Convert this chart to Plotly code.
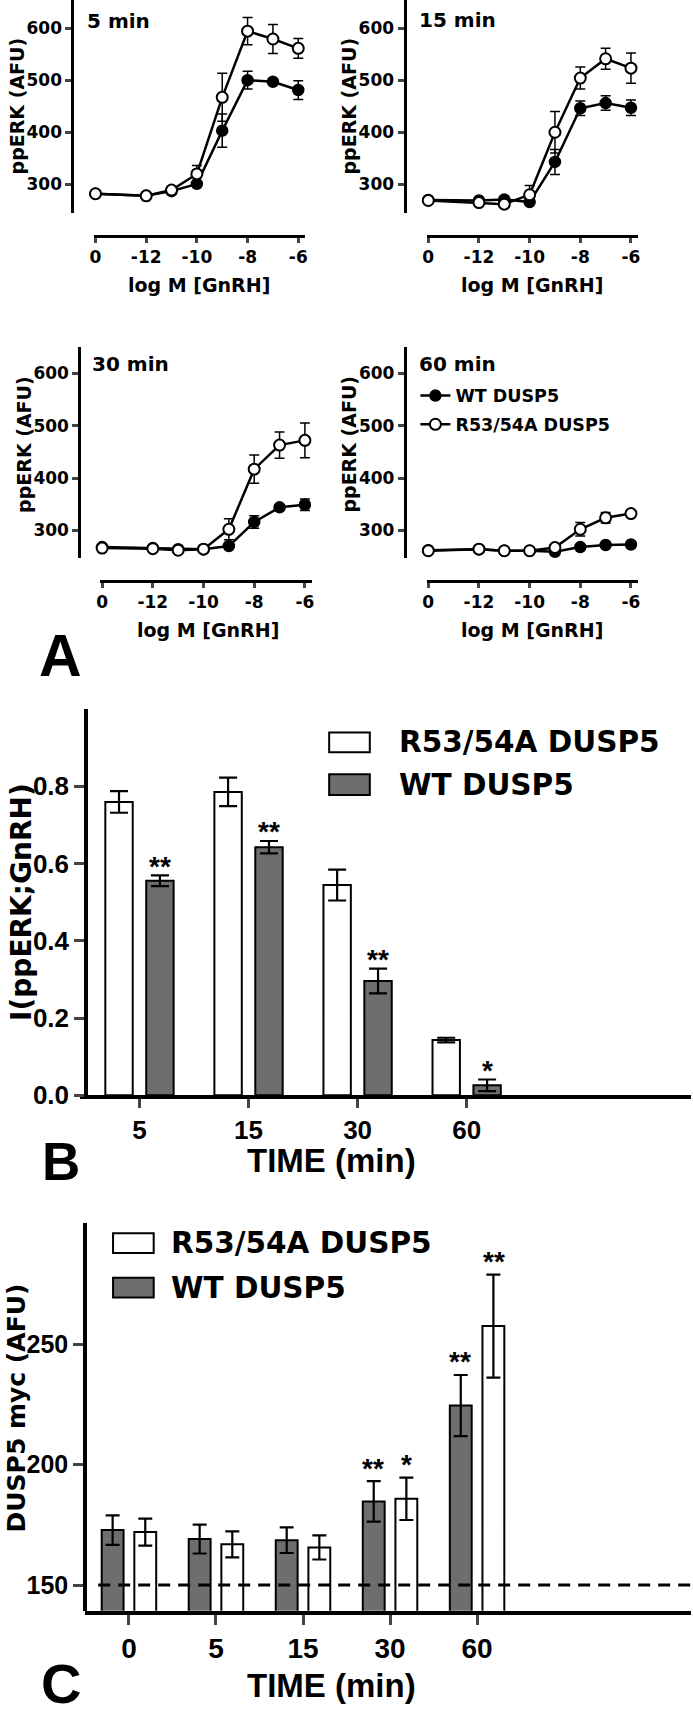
import plotly.graph_objects as go

W, H = 693, 1718
def fx(px): return px / W
def fy(py): return 1 - py / H

FONT = "DejaVu Sans"
ARIAL = "Liberation Sans"
GRAY = "#6e6e6e"

# ---------------- Panel A data ----------------
log_gnrh = [-14, -12, -11, -10, -9, -8, -7, -6]   # -14 = control (0 GnRH)
x_tick_vals = [-14, -12, -10, -8, -6]
x_tick_text = ["0", "-12", "-10", "-8", "-6"]
y_tick_vals_a = [300, 400, 500, 600]
panel_titles = ["5 min", "15 min", "30 min", "60 min"]

wt_5 = [282, 278, 287, 301, 403, 500, 497, 481]
wt_5_err = [3, 3, 3, 4, 32, 17, 5, 18]
mut_5 = [282, 278, 289, 320, 467, 594, 579, 561]
mut_5_err = [3, 3, 4, 16, 46, 26, 28, 19]

wt_15 = [270, 269, 271, 266, 343, 446, 456, 447]
wt_15_err = [3, 3, 3, 4, 24, 14, 14, 15]
mut_15 = [269, 265, 262, 280, 400, 504, 541, 523]
mut_15_err = [3, 3, 3, 18, 40, 21, 20, 29]

wt_30 = [268, 266, 264, 264, 270, 316, 344, 349]
wt_30_err = [3, 3, 3, 3, 4, 12, 5, 11]
mut_30 = [266, 265, 262, 264, 302, 417, 463, 472]
mut_30_err = [3, 3, 3, 3, 20, 27, 25, 33]

wt_60 = [262, 264, 261, 261, 259, 268, 272, 273]
wt_60_err = [3, 3, 3, 3, 3, 4, 4, 4]
mut_60 = [261, 264, 261, 261, 267, 302, 324, 332]
mut_60_err = [3, 3, 3, 3, 4, 13, 10, 5]

# ---------------- Panel B data ----------------
times_b = ["5", "15", "30", "60"]
mut_b = [0.759, 0.785, 0.544, 0.143]
mut_b_err = [0.028, 0.037, 0.040, 0.006]
wt_b = [0.555, 0.642, 0.296, 0.026]
wt_b_err = [0.014, 0.016, 0.032, 0.015]
stars_b = ["**", "**", "**", "*"]

# ---------------- Panel C data ----------------
times_c = ["0", "5", "15", "30", "60"]
wt_c = [172.8, 169.1, 168.6, 184.7, 224.5]
wt_c_err = [6.1, 6.0, 5.3, 8.4, 12.7]
mut_c = [172.0, 166.9, 165.6, 185.8, 257.5]
mut_c_err = [5.6, 5.4, 5.0, 8.8, 21.4]
stars_c_wt = ["", "", "", "**", "**"]
stars_c_mut = ["", "", "", "*", "**"]
baseline_c = 150

WT_NAME = "WT DUSP5"
MUT_NAME = "R53/54A DUSP5"

def bold(family, size):
    return dict(family=family, size=size, color="black", weight="bold")

fig = go.Figure()

panels = [
    (wt_5, wt_5_err, mut_5, mut_5_err),
    (wt_15, wt_15_err, mut_15, mut_15_err),
    (wt_30, wt_30_err, mut_30, mut_30_err),
    (wt_60, wt_60_err, mut_60, mut_60_err),
]
# pixel geometry: ydom top, ydom bottom, y-axis x, xdom left, xdom right, x-axis y, y range,
# title x, title y, ytitle x, ytitle y, xtitle x, xtitle y
geom = [
    (0, 215, 69, 90.5, 304.0, 238, [244.8, 653.8], 82, 21, 13.5, 107, 197, 288),
    (0, 215, 404, 426.2, 639.6, 238, [244.8, 653.8], 417, 20, 348.5, 107, 533, 288),
    (350, 563.3, 76, 97.2, 310.7, 586, [246.4, 650.6], 87, 367, 20, 448, 206, 636),
    (350, 563.3, 404.3, 426.2, 639.6, 586, [246.4, 650.6], 417, 367, 348.5, 448, 533, 636),
]

layout_axes = {}
annotations = []
shapes = []

for i, ((wt, wte, mu, mue), g) in enumerate(zip(panels, geom), start=1):
    ytop, ybot, yax_x, xl, xr, xax_y, yr, tx, ty, ytx, yty, xtx, xty = g
    xa = "x" if i == 1 else f"x{i}"
    ya = "y" if i == 1 else f"y{i}"
    show = (i == 4)
    fig.add_trace(go.Scatter(
        x=log_gnrh, y=wt, xaxis=xa, yaxis=ya, name=WT_NAME, mode="lines+markers",
        line=dict(color="black", width=2.5),
        marker=dict(symbol="circle", size=11, color="black", line=dict(color="black", width=1.5)),
        error_y=dict(type="data", array=wte, color="black", thickness=1.5, width=5),
        cliponaxis=False, showlegend=show, legendgroup="wt",
    ))
    fig.add_trace(go.Scatter(
        x=log_gnrh, y=mu, xaxis=xa, yaxis=ya, name=MUT_NAME, mode="lines+markers",
        line=dict(color="black", width=2.5),
        marker=dict(symbol="circle", size=11, color="white", line=dict(color="black", width=2)),
        error_y=dict(type="data", array=mue, color="black", thickness=1.5, width=5),
        cliponaxis=False, showlegend=show, legendgroup="mut",
    ))
    xkey = "xaxis" if i == 1 else f"xaxis{i}"
    ykey = "yaxis" if i == 1 else f"yaxis{i}"
    layout_axes[xkey] = dict(
        domain=[fx(xl), fx(xr)], anchor="free", position=fy(xax_y), range=[-14.07, -5.72],
        tickvals=x_tick_vals, ticktext=x_tick_text, ticks="outside", ticklen=5, tickwidth=2.5,
        showline=True, linewidth=3, linecolor="black", showgrid=False, zeroline=False,
        tickfont=bold(FONT, 17),
    )
    layout_axes[ykey] = dict(
        domain=[fy(ybot), fy(ytop)], anchor="free", position=fx(yax_x), range=yr,
        tickvals=y_tick_vals_a, ticks="outside", ticklen=6, tickwidth=2.5,
        showline=True, linewidth=3, linecolor="black", showgrid=False, zeroline=False,
        tickfont=bold(FONT, 17),
    )
    annotations.append(dict(text=panel_titles[i - 1], xref="paper", yref="paper",
                            x=fx(tx), y=fy(ty), xanchor="left", yanchor="middle", showarrow=False,
                            font=bold(FONT, 20)))
    annotations.append(dict(text="ppERK (AFU)", xref="paper", yref="paper",
                            x=fx(ytx), y=fy(yty), xanchor="center", yanchor="middle",
                            textangle=-90, showarrow=False, font=bold(FONT, 19)))
    annotations.append(dict(text="log M [GnRH]", xref="paper", yref="paper",
                            x=fx(xtx), y=fy(xty), xanchor="center", yanchor="middle", showarrow=False,
                            font=bold(FONT, 19)))

# ---------------- Panel B ----------------
fig.add_trace(go.Bar(
    x=times_b, y=mut_b, xaxis="x5", yaxis="y5", name=MUT_NAME, showlegend=False,
    marker=dict(color="white", line=dict(color="black", width=2)),
    error_y=dict(type="data", array=mut_b_err, color="black", thickness=2.2, width=9),
))
fig.add_trace(go.Bar(
    x=times_b, y=wt_b, xaxis="x5", yaxis="y5", name=WT_NAME, showlegend=False,
    marker=dict(color=GRAY, line=dict(color="black", width=2)),
    error_y=dict(type="data", array=wt_b_err, color="black", thickness=2.2, width=9),
))
layout_axes["xaxis5"] = dict(
    domain=[fx(76.7), 1.0], anchor="y5", type="category", range=[-0.545, 5.057],
    ticks="outside", ticklen=9, tickwidth=3, showline=True, linewidth=3.5, linecolor="black",
    showgrid=False, zeroline=False, tickfont=bold(ARIAL, 26),
)
layout_axes["yaxis5"] = dict(
    domain=[fy(1105), fy(715)], anchor="free", position=fx(82.7), range=[0, 1.0],
    tickvals=[0, 0.2, 0.4, 0.6, 0.8], tickformat=".1f", ticks="outside", ticklen=10, tickwidth=3,
    showline=True, linewidth=3.5, linecolor="black", showgrid=False, zeroline=False,
    tickfont=bold(ARIAL, 26),
)
for k, (v, e, s) in enumerate(zip(wt_b, wt_b_err, stars_b)):
    annotations.append(dict(text=s, xref="x5", yref="y5", x=k, y=v + e, xshift=20.5, yshift=9,
                            xanchor="center", yanchor="middle", showarrow=False,
                            font=bold(ARIAL, 28)))
annotations.append(dict(text="I(ppERK;GnRH)", xref="paper", yref="paper", x=fx(17), y=fy(910),
                        textangle=-90, showarrow=False, xanchor="center", yanchor="middle",
                        font=bold(FONT, 28)))
annotations.append(dict(text="TIME (min)", xref="paper", yref="paper", x=fx(330), y=fy(1171),
                        showarrow=False, xanchor="center", yanchor="middle",
                        font=bold(ARIAL, 33)))

# ---------------- Panel C ----------------
fig.add_trace(go.Bar(
    x=times_c, y=wt_c, xaxis="x6", yaxis="y6", name=WT_NAME, showlegend=False,
    marker=dict(color=GRAY, line=dict(color="black", width=2)),
    error_y=dict(type="data", array=wt_c_err, color="black", thickness=2.2, width=7),
))
fig.add_trace(go.Bar(
    x=times_c, y=mut_c, xaxis="x6", yaxis="y6", name=MUT_NAME, showlegend=False,
    marker=dict(color="white", line=dict(color="black", width=2)),
    error_y=dict(type="data", array=mut_c_err, color="black", thickness=2.2, width=7),
))
layout_axes["xaxis6"] = dict(
    domain=[fx(81.7), 1.0], anchor="y6", type="category", range=[-0.505, 6.458],
    ticks="outside", ticklen=10, tickwidth=3, showline=True, linewidth=3.5, linecolor="black",
    showgrid=False, zeroline=False, tickfont=bold(ARIAL, 28),
)
layout_axes["yaxis6"] = dict(
    domain=[fy(1625), fy(1234)], anchor="free", position=fx(81.7), range=[139.3, 300.2],
    tickvals=[150, 200, 250], ticks="outside", ticklen=10, tickwidth=3,
    showline=True, linewidth=3.5, linecolor="black", showgrid=False, zeroline=False,
    tickfont=bold(ARIAL, 25),
)
for k, (v, e, s) in enumerate(zip(wt_c, wt_c_err, stars_c_wt)):
    if s:
        annotations.append(dict(text=s, xref="x6", yref="y6", x=k, y=v + e, xshift=-16.7, yshift=13,
                                xanchor="center", yanchor="middle", showarrow=False,
                                font=bold(ARIAL, 28)))
for k, (v, e, s) in enumerate(zip(mut_c, mut_c_err, stars_c_mut)):
    if s:
        annotations.append(dict(text=s, xref="x6", yref="y6", x=k, y=v + e, xshift=16.7, yshift=13,
                                xanchor="center", yanchor="middle", showarrow=False,
                                font=bold(ARIAL, 28)))
shapes.append(dict(type="line", xref="paper", yref="y6", x0=fx(95), x1=1.0,
                   y0=baseline_c, y1=baseline_c, layer="above",
                   line=dict(color="black", width=3, dash="12px,8px")))
annotations.append(dict(text="DUSP5 myc (AFU)", xref="paper", yref="paper", x=fx(13), y=fy(1420),
                        textangle=-90, showarrow=False, xanchor="center", yanchor="middle",
                        font=bold(FONT, 25)))
annotations.append(dict(text="TIME (min)", xref="paper", yref="paper", x=fx(330), y=fy(1700),
                        showarrow=False, xanchor="center", yanchor="middle",
                        font=bold(ARIAL, 33)))

# ---------------- manual legends for B and C ----------------
def bar_legend(x0, x1, rows, text_x, size):
    for (yt, yb, fill, label) in rows:
        shapes.append(dict(type="rect", xref="paper", yref="paper", x0=fx(x0), x1=fx(x1),
                           y0=fy(yb), y1=fy(yt), fillcolor=fill, line=dict(color="black", width=2)))
        annotations.append(dict(text=label, xref="paper", yref="paper", x=fx(text_x),
                                y=fy((yt + yb) / 2), xanchor="left", yanchor="middle", showarrow=False,
                                font=bold(FONT, size)))

bar_legend(328, 369, [(739, 759, "white", MUT_NAME), (781, 802, GRAY, WT_NAME)], 396, 29.5)
bar_legend(110, 151, [(1244, 1264, "white", MUT_NAME), (1289, 1309, GRAY, WT_NAME)], 166, 29.5)

# panel letters
for letter, cx, cy, sz in [("A", 57, 662, 59), ("B", 57, 1172, 53), ("C", 58, 1698, 56)]:
    annotations.append(dict(text=letter, xref="paper", yref="paper", x=fx(cx), y=fy(cy),
                            xanchor="center", yanchor="middle", showarrow=False,
                            font=bold(ARIAL, sz)))

fig.update_layout(
    width=W, height=H, margin=dict(l=0, r=0, t=0, b=0),
    paper_bgcolor="white", plot_bgcolor="white",
    font=dict(family=FONT, color="black", weight="bold"),
    barmode="group", bargap=0.25, bargroupgap=0.33,
    legend=dict(x=fx(415), y=fy(381), xanchor="left", yanchor="top",
                bgcolor="rgba(0,0,0,0)", tracegroupgap=3,
                font=bold(FONT, 17.5)),
    annotations=annotations, shapes=shapes,
    **layout_axes,
)

fig.write_html("out.html", config={"displayModeBar": False},
               post_script="document.body.style.margin='0px';document.body.style.overflow='hidden';")
